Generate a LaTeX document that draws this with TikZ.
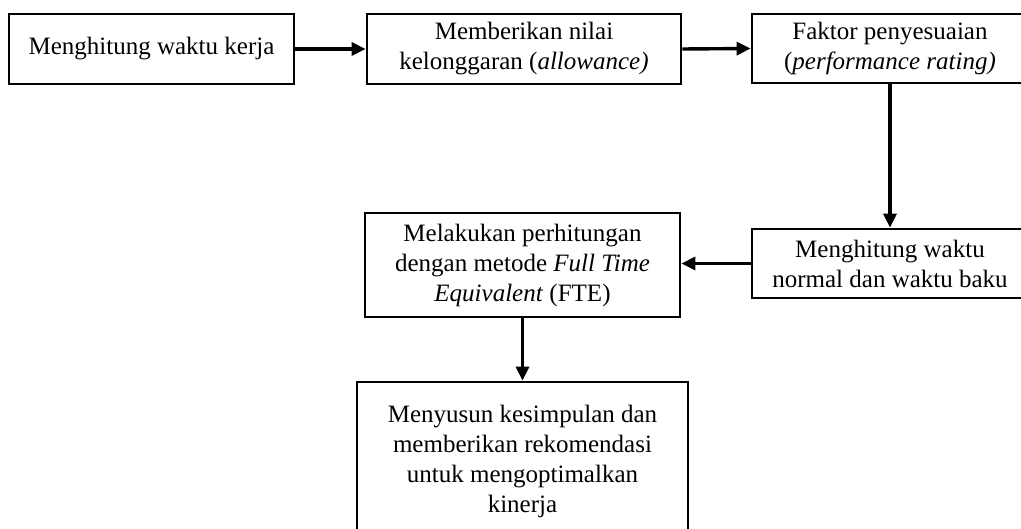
\documentclass[tikz,border=0pt]{standalone}
\usepackage{fontspec}
\setmainfont{Liberation Serif}
\usetikzlibrary{arrows.meta}
\begin{document}
\begin{tikzpicture}[x=1pt,y=-1pt,
  box/.style={draw=black, line width=2.8pt, rectangle, align=center, inner sep=0pt,
    font=\fontsize{25}{30}\selectfont},
  flow/.style={line width=3.4pt, -{Triangle[length=14pt,width=13pt]}}]
\useasboundingbox (0,0) rectangle (1021,529);
\clip (0,0) rectangle (1021,529);
\node[box, minimum width=285pt, minimum height=70pt] (b1) at (151.5,49) {Menghitung waktu kerja};
\node[box, minimum width=314pt, minimum height=70pt] (b2) at (524,49) {Memberikan nilai\\kelonggaran (\textit{allowance)}};
\node[box, minimum width=276pt, minimum height=69pt] (b3) at (890,48.5) {Faktor penyesuaian\\(\textit{performance rating)}};
\node[box, minimum width=276pt, minimum height=69pt] (b5) at (890,263.5) {Menghitung waktu\\normal dan waktu baku};
\node[box, minimum width=315pt, minimum height=104pt] (b4) at (522.5,265) {Melakukan perhitungan\\dengan metode \textit{Full Time}\\\textit{Equivalent} (FTE)};
\node[box, minimum width=331pt, minimum height=158pt] (b6) at (522.5,461) {Menyusun kesimpulan dan\\memberikan rekomendasi\\untuk mengoptimalkan\\kinerja};
\draw[flow] (b1.east) -- (b2.west);
\draw[flow] (b2.east) -- (b3.west);
\draw[flow] (b3.south) -- (b5.north);
\draw[flow] (b5.west) -- (b5.west -| b4.east);
\draw[flow] (b4.south) -- (b6.north);
\end{tikzpicture}
\end{document}
